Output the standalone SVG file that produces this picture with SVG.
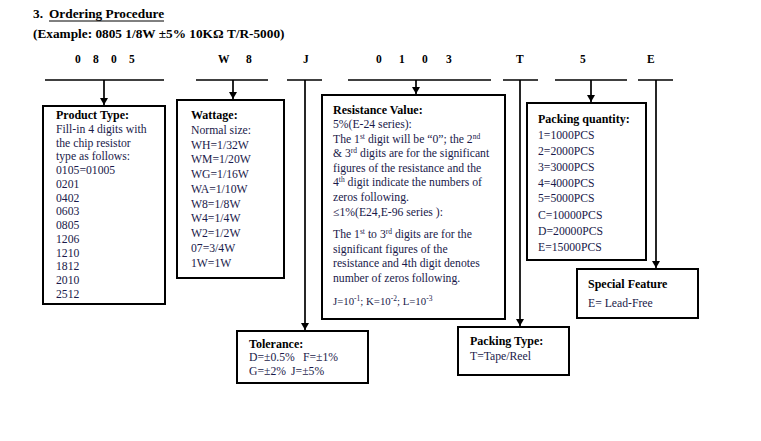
<svg xmlns="http://www.w3.org/2000/svg" width="761" height="441" viewBox="0 0 761 441">
<style>
text{font-family:"Liberation Serif","Times New Roman",serif;}
.h{font-size:13.3px;font-weight:bold;fill:#000;}
.d{font-size:11.5px;font-weight:bold;fill:#000;}
.b{font-size:12px;font-weight:bold;fill:#000;}
.r{font-size:11.7px;fill:#1a1a4a;}
.sup{font-size:7.5px;}
.box{fill:#fff;stroke:#000;stroke-width:2;}
.ln{stroke:#000;stroke-width:1.7;fill:none;}
</style>
<defs>
<marker id="a" markerWidth="8" markerHeight="8" refX="7" refY="4" orient="auto" markerUnits="userSpaceOnUse" viewBox="0 0 8 8">
<path d="M0,0 L7,4 L0,8 Z" fill="#000"/>
</marker>
</defs>
<g id="title">
<text class="h" x="33" y="18">3.</text>
<text class="h" x="49" y="18">Ordering Procedure</text>
<line x1="49" y1="21" x2="164" y2="21" stroke="#000" stroke-width="1"/>
<text class="h" x="33" y="38">(Example: 0805 1/8W ±5% 10KΩ T/R-5000)</text>
</g>
<g id="codes">
<text class="d" x="75 93 111 129" y="63">0805</text>
<text class="d" x="218 246" y="63">W8</text>
<text class="d" x="303" y="63">J</text>
<text class="d" x="376 399 422 446" y="63">0103</text>
<text class="d" x="516" y="63">T</text>
<text class="d" x="580" y="63">5</text>
<text class="d" x="647" y="63">E</text>
</g>
<g id="connectors">
<line class="ln" x1="45" y1="80" x2="164" y2="80"/>
<line class="ln" x1="196" y1="80" x2="268" y2="80"/>
<line class="ln" x1="287" y1="80" x2="322" y2="80"/>
<line class="ln" x1="348" y1="80" x2="491" y2="80"/>
<line class="ln" x1="503" y1="80" x2="538" y2="80"/>
<line class="ln" x1="555" y1="80" x2="627" y2="80"/>
<line class="ln" x1="638" y1="80" x2="673" y2="80"/>
<line class="ln" x1="104" y1="80" x2="104" y2="105" marker-end="url(#a)"/>
<line class="ln" x1="233" y1="80" x2="233" y2="99" marker-end="url(#a)"/>
<line class="ln" x1="305" y1="80" x2="305" y2="330" marker-end="url(#a)"/>
<line class="ln" x1="416" y1="80" x2="416" y2="94" marker-end="url(#a)"/>
<line class="ln" x1="520" y1="80" x2="520" y2="326" marker-end="url(#a)"/>
<line class="ln" x1="591" y1="80" x2="591" y2="102" marker-end="url(#a)"/>
<line class="ln" x1="656" y1="80" x2="656" y2="268" marker-end="url(#a)"/>
</g>
<g id="product-type">
<rect class="box" x="43" y="106" width="122" height="198"/>
<text class="b" x="56" y="119">Product Type:</text>
<text class="r" x="56" y="132.8">Fill-in 4 digits with</text>
<text class="r" x="56" y="146.5">the chip resistor</text>
<text class="r" x="56" y="160.3">type as follows:</text>
<text class="r" x="56" y="174">0105=01005</text>
<text class="r" x="56" y="187.8">0201</text>
<text class="r" x="56" y="201.6">0402</text>
<text class="r" x="56" y="215.3">0603</text>
<text class="r" x="56" y="229.1">0805</text>
<text class="r" x="56" y="242.8">1206</text>
<text class="r" x="56" y="256.6">1210</text>
<text class="r" x="56" y="270.4">1812</text>
<text class="r" x="56" y="284.1">2010</text>
<text class="r" x="56" y="297.9">2512</text>
</g>
<g id="wattage">
<rect class="box" x="177" y="100" width="107" height="178"/>
<text class="b" x="191" y="119">Wattage:</text>
<text class="r" x="191" y="133.7">Normal size:</text>
<text class="r" x="191" y="148.5">WH=1/32W</text>
<text class="r" x="191" y="163.2">WM=1/20W</text>
<text class="r" x="191" y="178">WG=1/16W</text>
<text class="r" x="191" y="192.7">WA=1/10W</text>
<text class="r" x="191" y="207.5">W8=1/8W</text>
<text class="r" x="191" y="222.2">W4=1/4W</text>
<text class="r" x="191" y="237">W2=1/2W</text>
<text class="r" x="191" y="251.7">07=3/4W</text>
<text class="r" x="191" y="266.5">1W=1W</text>
</g>
<g id="resistance-value">
<rect class="box" x="322" y="95" width="183" height="224"/>
<text class="b" x="333" y="114">Resistance Value:</text>
<text class="r" x="333" y="128">5%(E-24 series):</text>
<text class="r" x="333" y="142.5">The 1<tspan class="sup" dy="-4">st</tspan><tspan dy="4"> digit will be “0”; the 2</tspan><tspan class="sup" dy="-4">nd</tspan></text>
<text class="r" x="333" y="157">&amp; 3<tspan class="sup" dy="-4">rd</tspan><tspan dy="4"> digits are for the significant</tspan></text>
<text class="r" x="333" y="172">figures of the resistance and the</text>
<text class="r" x="333" y="186">4<tspan class="sup" dy="-4">th</tspan><tspan dy="4"> digit indicate the numbers of</tspan></text>
<text class="r" x="333" y="201">zeros following.</text>
<text class="r" x="333" y="215.5">≤1%(E24,E-96 series ):</text>
<text class="r" x="333" y="238">The 1<tspan class="sup" dy="-4">st</tspan><tspan dy="4"> to 3</tspan><tspan class="sup" dy="-4">rd</tspan><tspan dy="4"> digits are for the</tspan></text>
<text class="r" x="333" y="252.5">significant figures of the</text>
<text class="r" x="333" y="267">resistance and 4th digit denotes</text>
<text class="r" x="333" y="281.5">number of zeros following.</text>
<text class="r" x="333" y="304.5" style="font-size:10.8px">J=10<tspan class="sup" dy="-4">-1</tspan><tspan dy="4">; K=10</tspan><tspan class="sup" dy="-4">-2</tspan><tspan dy="4">; L=10</tspan><tspan class="sup" dy="-4">-3</tspan></text>
</g>
<g id="packing-quantity">
<rect class="box" x="527" y="103" width="119" height="157"/>
<text class="b" x="538" y="123.3">Packing quantity:</text>
<text class="r" x="538" y="139">1=1000PCS</text>
<text class="r" x="538" y="154.8">2=2000PCS</text>
<text class="r" x="538" y="170.7">3=3000PCS</text>
<text class="r" x="538" y="186.5">4=4000PCS</text>
<text class="r" x="538" y="202.3">5=5000PCS</text>
<text class="r" x="538" y="218.5">C=10000PCS</text>
<text class="r" x="538" y="234.7">D=20000PCS</text>
<text class="r" x="538" y="250.7">E=15000PCS</text>
</g>
<g id="special-feature">
<rect class="box" x="577" y="269" width="121" height="49"/>
<text class="b" x="588" y="288.3">Special Feature</text>
<text class="r" x="588" y="307.3">E= Lead-Free</text>
</g>
<g id="tolerance">
<rect class="box" x="237" y="331" width="131" height="52"/>
<text class="b" x="249" y="348">Tolerance:</text>
<text class="r" x="249" y="361">D=±0.5%</text>
<text class="r" x="303" y="361">F=±1%</text>
<text class="r" x="249" y="375">G=±2%</text>
<text class="r" x="291" y="375">J=±5%</text>
</g>
<g id="packing-type">
<rect class="box" x="458" y="327" width="111" height="48"/>
<text class="b" x="470" y="345">Packing Type:</text>
<text class="r" x="470" y="360">T=Tape/Reel</text>
</g>
</svg>
